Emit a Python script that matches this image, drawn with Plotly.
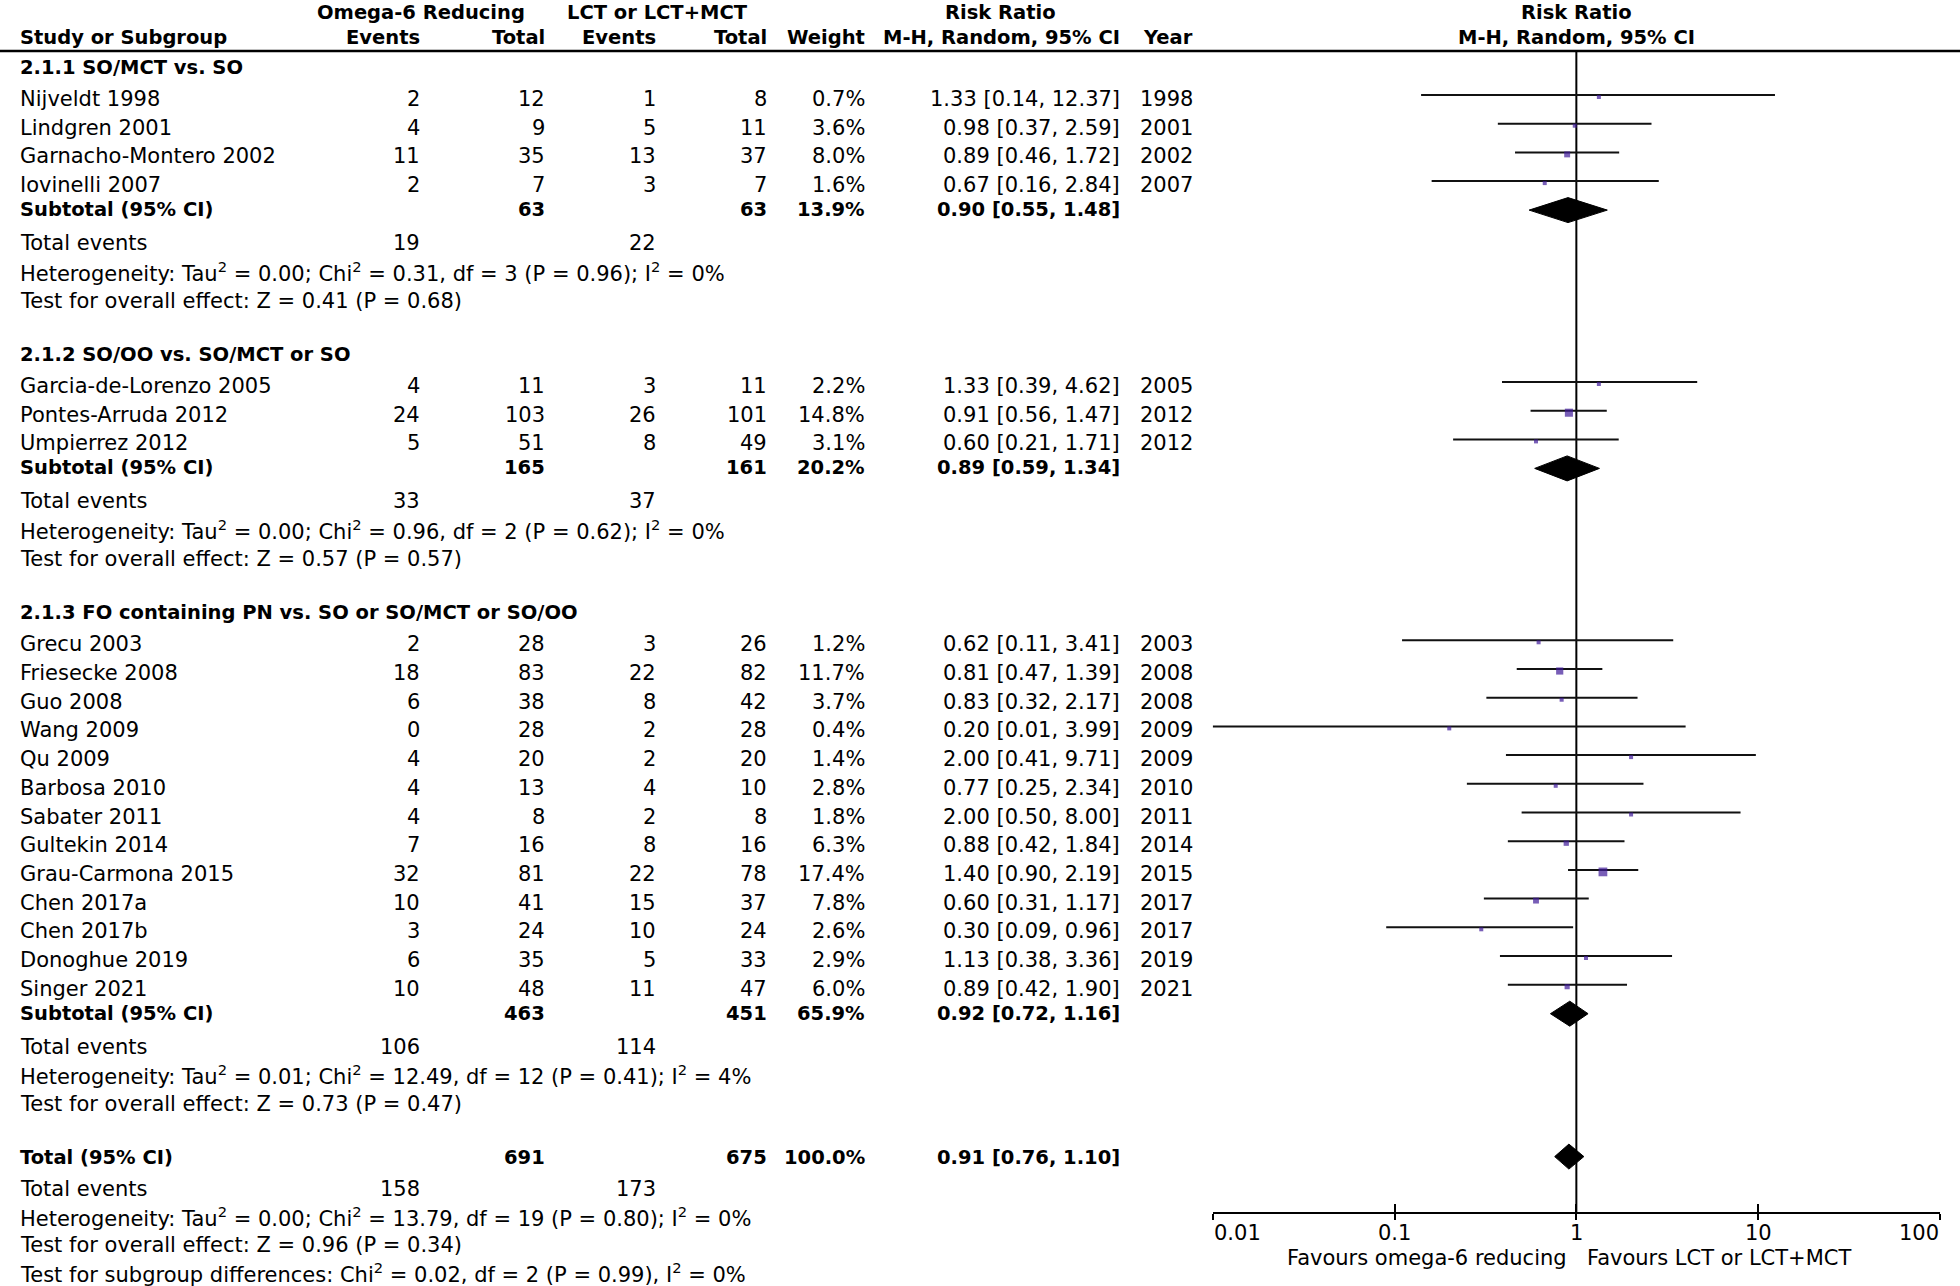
import math
import plotly.graph_objects as go

W, H = 1960, 1286

# ---------------- data ----------------
study_names = ["Nijveldt 1998", "Lindgren 2001", "Garnacho-Montero 2002", "Iovinelli 2007",
               "Garcia-de-Lorenzo 2005", "Pontes-Arruda 2012", "Umpierrez 2012",
               "Grecu 2003", "Friesecke 2008", "Guo 2008", "Wang 2009", "Qu 2009",
               "Barbosa 2010", "Sabater 2011", "Gultekin 2014", "Grau-Carmona 2015",
               "Chen 2017a", "Chen 2017b", "Donoghue 2019", "Singer 2021"]
study_group = [0, 0, 0, 0, 1, 1, 1, 2, 2, 2, 2, 2, 2, 2, 2, 2, 2, 2, 2, 2]
ev_o6 = [2, 4, 11, 2, 4, 24, 5, 2, 18, 6, 0, 4, 4, 4, 7, 32, 10, 3, 6, 10]
tot_o6 = [12, 9, 35, 7, 11, 103, 51, 28, 83, 38, 28, 20, 13, 8, 16, 81, 41, 24, 35, 48]
ev_lct = [1, 5, 13, 3, 3, 26, 8, 3, 22, 8, 2, 2, 4, 2, 8, 22, 15, 10, 5, 11]
tot_lct = [8, 11, 37, 7, 11, 101, 49, 26, 82, 42, 28, 20, 10, 8, 16, 78, 37, 24, 33, 47]
weight = [0.7, 3.6, 8.0, 1.6, 2.2, 14.8, 3.1, 1.2, 11.7, 3.7, 0.4, 1.4, 2.8, 1.8, 6.3, 17.4, 7.8, 2.6, 2.9, 6.0]
rr = [1.33, 0.98, 0.89, 0.67, 1.33, 0.91, 0.60, 0.62, 0.81, 0.83, 0.20, 2.00, 0.77, 2.00, 0.88, 1.40, 0.60, 0.30, 1.13, 0.89]
rr_lo = [0.14, 0.37, 0.46, 0.16, 0.39, 0.56, 0.21, 0.11, 0.47, 0.32, 0.01, 0.41, 0.25, 0.50, 0.42, 0.90, 0.31, 0.09, 0.38, 0.42]
rr_hi = [12.37, 2.59, 1.72, 2.84, 4.62, 1.47, 1.71, 3.41, 1.39, 2.17, 3.99, 9.71, 2.34, 8.00, 1.84, 2.19, 1.17, 0.96, 3.36, 1.90]
year = [1998, 2001, 2002, 2007, 2005, 2012, 2012, 2003, 2008, 2008, 2009, 2009, 2010, 2011, 2014, 2015, 2017, 2017, 2019, 2021]

sub_titles = ["2.1.1 SO/MCT vs. SO", "2.1.2 SO/OO vs. SO/MCT or SO",
              "2.1.3 FO containing PN vs. SO or SO/MCT or SO/OO"]
sub_tot_o6 = [63, 165, 463]
sub_tot_lct = [63, 161, 451]
sub_weight = [13.9, 20.2, 65.9]
sub_rr = [0.90, 0.89, 0.92]
sub_lo = [0.55, 0.59, 0.72]
sub_hi = [1.48, 1.34, 1.16]
sub_ev_o6 = [19, 33, 106]
sub_ev_lct = [22, 37, 114]
sub_het = ["Tau<sup>2</sup> = 0.00; Chi<sup>2</sup> = 0.31, df = 3 (P = 0.96); I<sup>2</sup> = 0%",
           "Tau<sup>2</sup> = 0.00; Chi<sup>2</sup> = 0.96, df = 2 (P = 0.62); I<sup>2</sup> = 0%",
           "Tau<sup>2</sup> = 0.01; Chi<sup>2</sup> = 12.49, df = 12 (P = 0.41); I<sup>2</sup> = 4%"]
sub_test = ["Z = 0.41 (P = 0.68)", "Z = 0.57 (P = 0.57)", "Z = 0.73 (P = 0.47)"]

tot_n_o6, tot_n_lct, tot_weight = 691, 675, 100.0
tot_rr, tot_lo, tot_hi = 0.91, 0.76, 1.10
tot_ev_o6, tot_ev_lct = 158, 173
tot_het = "Tau<sup>2</sup> = 0.00; Chi<sup>2</sup> = 13.79, df = 19 (P = 0.80); I<sup>2</sup> = 0%"
tot_test = "Z = 0.96 (P = 0.34)"
subgroup_diff = "Chi<sup>2</sup> = 0.02, df = 2 (P = 0.99), I<sup>2</sup> = 0%"

tick_vals = [0.01, 0.1, 1, 10, 100]
tick_text = ["0.01", "0.1", "1", "10", "100"]
favours_left = "Favours omega-6 reducing"
favours_right = "Favours LCT or LCT+MCT"

# ---------------- layout helpers ----------------
FONT = "DejaVu Sans"
FS = 21
FSB = 19.5
AXIS_Y = 1213
HEADER_LINE = 51
COL = dict(name=19, ev1=421, tot1=546, ev2=657, tot2=768, wt=866, rr=1121, year=1194, rrmid=1001)

annotations = []


def txt(x, y, s, anchor="left", bold=False, xref="paper", xshift=0):
    size = FS
    if bold:
        s = "<b>" + s + "</b>"
        size = FSB
    annotations.append(dict(
        x=(x / W) if xref == "paper" else x, y=y, xref=xref, yref="y", text=s,
        showarrow=False, xanchor=anchor, yanchor="middle", borderpad=0, xshift=xshift,
        font=dict(family=FONT, size=size, color="black")))


def fmt_ci(r, lo, hi):
    return f"{r:.2f} [{lo:.2f}, {hi:.2f}]"


# header
txt(COL["ev1"], 12, "Omega-6 Reducing", "center", True)
txt(COL["ev2"], 12, "LCT or LCT+MCT", "center", True)
txt(COL["rrmid"], 12, "Risk Ratio", "center", True)
txt(0, 12, "Risk Ratio", "center", True, xref="x")
txt(COL["name"], 37, "Study or Subgroup", "left", True)
txt(COL["ev1"], 37, "Events", "right", True)
txt(COL["tot1"], 37, "Total", "right", True)
txt(COL["ev2"], 37, "Events", "right", True)
txt(COL["tot2"], 37, "Total", "right", True)
txt(COL["wt"], 37, "Weight", "right", True)
txt(COL["rr"], 37, "M-H, Random, 95% CI", "right", True)
txt(COL["year"], 37, "Year", "right", True)
txt(0, 37, "M-H, Random, 95% CI", "center", True, xref="x")

# row positions
ci_x, ci_y = [], []
sq_x, sq_y, sq_s = [], [], []
diamonds = []

y = 67
for g in range(3):
    if g > 0:
        y += 53.5
    txt(COL["name"], y, sub_titles[g], "left", True)
    idx = [i for i, gg in enumerate(study_group) if gg == g]
    for k, i in enumerate(idx):
        y += 32 if k == 0 else 28.7
        txt(COL["name"], y, study_names[i])
        txt(COL["ev1"], y, str(ev_o6[i]), "right")
        txt(COL["tot1"], y, str(tot_o6[i]), "right")
        txt(COL["ev2"], y, str(ev_lct[i]), "right")
        txt(COL["tot2"], y, str(tot_lct[i]), "right")
        txt(COL["wt"], y, f"{weight[i]:.1f}%", "right")
        txt(COL["rr"], y, fmt_ci(rr[i], rr_lo[i], rr_hi[i]), "right")
        txt(COL["year"], y, str(year[i]), "right")
        ci_x += [rr_lo[i], rr_hi[i], None]
        ci_y += [y - 4, y - 4, None]
        sq_x.append(rr[i])
        sq_y.append(y - 2)
        sq_s.append(max(4.0, 2.1 * math.sqrt(weight[i])))
    y += 24.5
    txt(COL["name"], y, "Subtotal (95% CI)", "left", True)
    txt(COL["tot1"], y, str(sub_tot_o6[g]), "right", True)
    txt(COL["tot2"], y, str(sub_tot_lct[g]), "right", True)
    txt(COL["wt"], y, f"{sub_weight[g]:.1f}%", "right", True)
    txt(COL["rr"], y, fmt_ci(sub_rr[g], sub_lo[g], sub_hi[g]), "right", True)
    diamonds.append((sub_lo[g], sub_rr[g], sub_hi[g], y + 0.5))
    y += 33.5
    txt(COL["name"], y, "Total events")
    txt(COL["ev1"], y, str(sub_ev_o6[g]), "right")
    txt(COL["ev2"], y, str(sub_ev_lct[g]), "right")
    y += 28.7
    txt(COL["name"], y, "Heterogeneity: " + sub_het[g])
    y += 28.7
    txt(COL["name"], y, "Test for overall effect: " + sub_test[g])

y += 53
txt(COL["name"], y, "Total (95% CI)", "left", True)
txt(COL["tot1"], y, str(tot_n_o6), "right", True)
txt(COL["tot2"], y, str(tot_n_lct), "right", True)
txt(COL["wt"], y, f"{tot_weight:.1f}%", "right", True)
txt(COL["rr"], y, fmt_ci(tot_rr, tot_lo, tot_hi), "right", True)
diamonds.append((tot_lo, tot_rr, tot_hi, y - 0.5))
y += 31.5
txt(COL["name"], y, "Total events")
txt(COL["ev1"], y, str(tot_ev_o6), "right")
txt(COL["ev2"], y, str(tot_ev_lct), "right")
y += 28.2
txt(COL["name"], y, "Heterogeneity: " + tot_het)
y += 28.2
txt(COL["name"], y, "Test for overall effect: " + tot_test)
y += 28.2
txt(COL["name"], y, "Test for subgroup differences: " + subgroup_diff)

# axis tick labels and favours labels
for v, t in zip(tick_vals, tick_text):
    anchor = "left" if v == tick_vals[0] else ("right" if v == tick_vals[-1] else "center")
    txt(math.log10(v), 1233, t, anchor, xref="x")
txt(0, 1258, favours_left, "right", xref="x", xshift=-8)
txt(0, 1258, favours_right, "left", xref="x", xshift=10)

# ---------------- traces ----------------
fig = go.Figure()
fig.add_trace(go.Scatter(x=[1, 1], y=[HEADER_LINE, AXIS_Y], mode="lines",
                         line=dict(color="black", width=2), hoverinfo="skip", cliponaxis=False))
fig.add_trace(go.Scatter(x=ci_x, y=ci_y, mode="lines", line=dict(color="#111111", width=2),
                         hoverinfo="skip", cliponaxis=False))
fig.add_trace(go.Scatter(x=sq_x, y=sq_y, mode="markers",
                         marker=dict(symbol="square", size=sq_s, color="#3f1a98", line=dict(width=0)),
                         hoverinfo="skip", cliponaxis=False))
DH = 12.5
for lo, c, hi, yy in diamonds:
    fig.add_trace(go.Scatter(x=[lo, c, hi, c, lo], y=[yy, yy - DH, yy, yy + DH, yy],
                             mode="lines", fill="toself", fillcolor="black",
                             line=dict(color="black", width=1), hoverinfo="skip", cliponaxis=False))
fig.add_trace(go.Scatter(x=[1], y=[0], xaxis="x2", mode="markers",
                         marker=dict(opacity=0), hoverinfo="skip"))

xdom = [1212.7 / W, 1940 / W]
axis_pos = (H - AXIS_Y) / H
fig.update_layout(
    width=W, height=H, margin=dict(l=0, r=0, t=0, b=0),
    paper_bgcolor="white", plot_bgcolor="white", showlegend=False,
    xaxis=dict(type="log", range=[-2, 2], domain=xdom, anchor="free", position=axis_pos,
               showline=True, linecolor="black", linewidth=2,
               ticks="inside", ticklen=8, tickwidth=2, tickcolor="black",
               tickvals=tick_vals, showticklabels=False, showgrid=False, zeroline=False),
    xaxis2=dict(type="log", range=[-2, 2], domain=xdom, anchor="free", position=axis_pos,
                overlaying="x", showline=False, ticks="outside", ticklen=6, tickwidth=2,
                tickcolor="black", tickvals=tick_vals, showticklabels=False,
                showgrid=False, zeroline=False),
    yaxis=dict(range=[H, 0], domain=[0, 1], visible=False, showgrid=False, zeroline=False),
    annotations=annotations,
    shapes=[dict(type="line", xref="paper", yref="y", x0=0, x1=1, y0=HEADER_LINE, y1=HEADER_LINE,
                 line=dict(color="black", width=2.5))],
)

fig.write_html("out.html", config={"displayModeBar": False},
               post_script="document.body.style.margin='0px';document.body.style.overflow='hidden';")
